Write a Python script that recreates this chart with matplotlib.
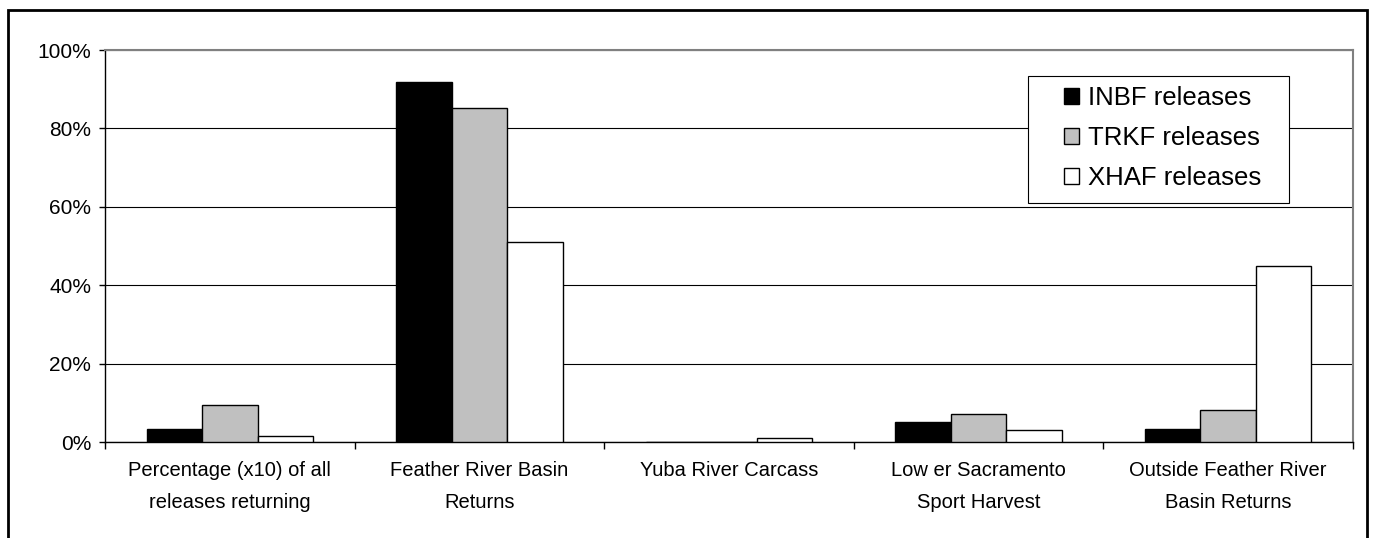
# Bar chart of return destinations for INBF, TRKF and XHAF releases
import numpy as np
import matplotlib.pyplot as plt
from matplotlib.patches import Rectangle
from matplotlib.ticker import PercentFormatter

plt.rcParams['font.family'] = ['Liberation Sans', 'DejaVu Sans']

# Data (percent)
categories = ['Percentage (x10) of all\nreleases returning',
              'Feather River Basin\nReturns',
              'Yuba River Carcass',
              'Low er Sacramento\nSport Harvest',
              'Outside Feather River\nBasin Returns']
inbf = [3.2, 91.8, 0.0, 5.2, 3.2]
trkf = [9.4, 85.2, 0.0, 7.2, 8.2]
xhaf = [1.6, 51.0, 1.0, 3.1, 44.9]
series_names = ['INBF releases', 'TRKF releases', 'XHAF releases']

W, H = 1374, 538
fig = plt.figure(figsize=(W / 100, H / 100), dpi=100)
ax = fig.add_axes([105 / W, 1 - 442 / H, 1248 / W, 392 / H])

x = np.arange(len(categories))
w = 0.222
ax.bar(x - w, inbf, w, color='black', edgecolor='black', linewidth=1,
       label=series_names[0], zorder=3)
ax.bar(x, trkf, w, color='#c0c0c0', edgecolor='black', linewidth=1,
       label=series_names[1], zorder=3)
ax.bar(x + w, xhaf, w, color='white', edgecolor='black', linewidth=1,
       label=series_names[2], zorder=3)

ax.set_xlim(-0.5, len(categories) - 0.5)
ax.set_ylim(0, 100)
ax.set_yticks(np.arange(0, 101, 20))
ax.yaxis.set_major_formatter(PercentFormatter(decimals=0))
ax.yaxis.grid(True, color='black', linewidth=0.8, zorder=0)

# category labels centred, ticks at category boundaries
ax.set_xticks(x)
ax.set_xticklabels(categories, fontsize=14.5, linespacing=1.85)
ax.tick_params(axis='x', length=0, pad=14)
ax.set_xticks(np.arange(-0.5, len(categories), 1), minor=True)
ax.tick_params(axis='x', which='minor', length=5, width=1, direction='out')
ax.tick_params(axis='y', length=4, width=1, labelsize=15, pad=6)

for side in ['top', 'right']:
    ax.spines[side].set_color('#808080')
    ax.spines[side].set_linewidth(1.5)
for side in ['left', 'bottom']:
    ax.spines[side].set_color('black')
    ax.spines[side].set_linewidth(1)

# legend box drawn by hand (wider side padding than matplotlib gives)
fig.patches.append(Rectangle((1028 / W, 1 - 203 / H), 261 / W, 127 / H,
                             transform=fig.transFigure, facecolor='white',
                             edgecolor='black', linewidth=0.8, zorder=2))
handles, labels = ax.get_legend_handles_labels()
fig.legend(handles, labels, loc='upper left',
           bbox_to_anchor=(1064 / W, 1 - 86 / H),
           fontsize=18.5, frameon=False, handlelength=0.6, handleheight=0.6,
           handletextpad=0.35, labelspacing=0.62, borderpad=0,
           borderaxespad=0)

# outer border of the chart area (bottom edge lies below the image)
fig.patches.append(Rectangle((8 / W, -0.05), 1359 / W, 1.05 - 10 / H,
                             transform=fig.transFigure, fill=False,
                             edgecolor='black', linewidth=2))

fig.savefig('out.png', dpi=100)
